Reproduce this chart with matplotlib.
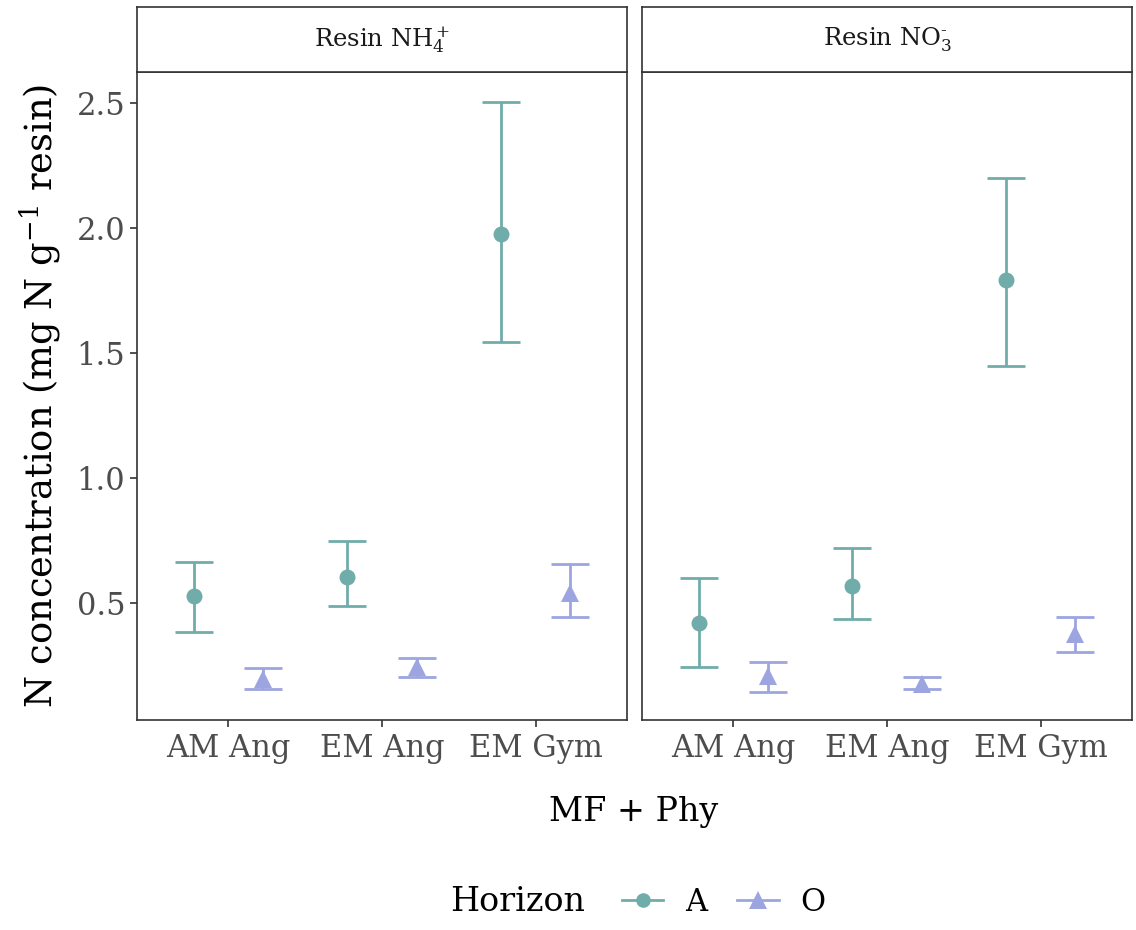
import numpy as np
import matplotlib
matplotlib.use("Agg")
import matplotlib.pyplot as plt
from matplotlib.lines import Line2D

plt.rcParams['font.family'] = ['DejaVu Serif']
plt.rcParams['mathtext.fontset'] = 'dejavuserif'

# data
categories = ["AM Ang", "EM Ang", "EM Gym"]
panels = ["Resin NH$_4^+$", "Resin NO$_3^{\u2010}$"]
horizons = ["A", "O"]

nh4_A_mean = [0.53, 0.605, 1.975]
nh4_A_low = [0.385, 0.49, 1.545]
nh4_A_high = [0.665, 0.748, 2.504]
nh4_O_mean = [0.198, 0.244, 0.54]
nh4_O_low = [0.155, 0.205, 0.445]
nh4_O_high = [0.24, 0.28, 0.656]

no3_A_mean = [0.42, 0.568, 1.79]
no3_A_low = [0.246, 0.438, 1.448]
no3_A_high = [0.6, 0.72, 2.2]
no3_O_mean = [0.21, 0.178, 0.378]
no3_O_low = [0.146, 0.155, 0.305]
no3_O_high = [0.265, 0.204, 0.445]

colors = {"A": "#70ADAA", "O": "#9DA5E0"}
markers = {"A": "o", "O": "^"}
msize = {"A": 11.5, "O": 13.5}
dodge = 0.225

panel_data = [
    {"A": (nh4_A_mean, nh4_A_low, nh4_A_high), "O": (nh4_O_mean, nh4_O_low, nh4_O_high)},
    {"A": (no3_A_mean, no3_A_low, no3_A_high), "O": (no3_O_mean, no3_O_low, no3_O_high)},
]

W, H = 1136, 930
fig = plt.figure(figsize=(W / 100, H / 100), dpi=100)

lefts = [137, 642]
pw = 490
top, bottom = 72, 720
strip_top = 7

x = np.arange(1, len(categories) + 1)
for i, (left, title, data) in enumerate(zip(lefts, panels, panel_data)):
    ax = fig.add_axes([left / W, (H - bottom) / H, pw / W, (bottom - top) / H])
    for h in horizons:
        mean, low, high = [np.array(v) for v in data[h]]
        xs = x + (-dodge if h == "A" else dodge)
        ax.errorbar(xs, mean, yerr=[mean - low, high - mean], fmt='none',
                    ecolor=colors[h], elinewidth=2, capsize=14, capthick=2)
        ax.plot(xs, mean, linestyle='none', marker=markers[h], color=colors[h],
                markersize=msize[h], markeredgewidth=0)
    ax.set_xlim(0.407, 3.593)
    ax.set_ylim(0.032, 2.624)
    ax.set_xticks(x)
    ax.set_xticklabels(categories, fontsize=22, color='#4D4D4D')
    ax.set_yticks([0.5, 1.0, 1.5, 2.0, 2.5])
    if i == 0:
        ax.set_yticklabels(["0.5", "1.0", "1.5", "2.0", "2.5"], fontsize=22, color='#4D4D4D')
        ax.tick_params(axis='y', length=5, width=1.2, color='#333333')
    else:
        ax.tick_params(axis='y', left=False, labelleft=False)
    ax.tick_params(axis='x', length=5, width=1.2, color='#333333', pad=4)
    for s in ax.spines.values():
        s.set_color('#333333')
        s.set_linewidth(1.2)

    sax = fig.add_axes([left / W, (H - top) / H, pw / W, (top - strip_top) / H])
    sax.set_xticks([])
    sax.set_yticks([])
    for s in sax.spines.values():
        s.set_color('#333333')
        s.set_linewidth(1.2)
    sax.text(0.5, 0.5, title, ha='center', va='center', fontsize=17.5, color='#1A1A1A',
             transform=sax.transAxes)

fig.text(40 / W, 1 - 396 / H, "N concentration (mg N g$^{-1}$ resin)", rotation=90,
         ha='center', va='center', fontsize=26.5)
fig.text(634 / W, 1 - 812 / H, "MF + Phy", ha='center', va='center', fontsize=24)

# legend: title as plain text, entries in a row
fig.text(450 / W, 1 - 902 / H, "Horizon", ha='left', va='center', fontsize=24)
handles = [Line2D([0], [0], color=colors[h], marker=markers[h], markersize=msize[h] - 1,
                  markeredgewidth=0, lw=2) for h in horizons]
fig.legend(handles, horizons, loc='center left', bbox_to_anchor=(622 / W, 1 - 902 / H),
           ncol=2, frameon=False, fontsize=22, borderpad=0, borderaxespad=0,
           handlelength=1.35, columnspacing=1.0, handletextpad=0.7)

fig.savefig("out.png", dpi=100)
